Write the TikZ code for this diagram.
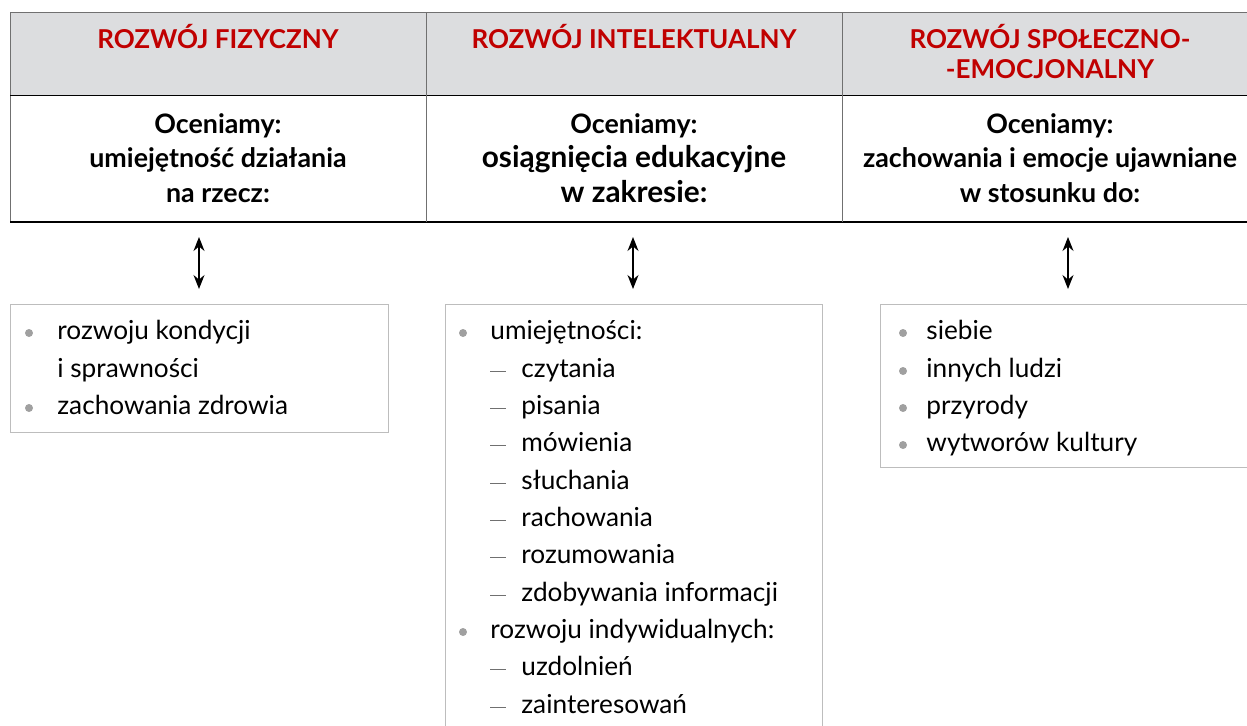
\documentclass[tikz,border=0pt]{standalone}
\usepackage{fontspec}
\setmainfont{Lato}
\usetikzlibrary{arrows.meta}
\definecolor{naglowek}{HTML}{DCDDDF}
\definecolor{czerwien}{HTML}{C00000}
\definecolor{ramka}{HTML}{BDBDBD}
\definecolor{linia}{HTML}{707070}
\definecolor{kropka}{HTML}{A0A0A0}

\begin{document}
\begin{tikzpicture}[x=0.5pt,y=-0.5pt,
		tytul/.style={font=\bfseries\fontsize{13}{15}\selectfont,text=czerwien,align=center,inner sep=0pt},
		ocena/.style={font=\bfseries\fontsize{13.4}{17.25}\selectfont,align=center,inner sep=0pt},
		punkt/.style={anchor=base west,font=\fontsize{13.1}{15}\selectfont,inner sep=0pt},
		strzalka/.style={{Stealth[length=7pt,width=5.5pt]}-{Stealth[length=7pt,width=5.5pt]},semithick}]
		\clip (0,0) rectangle (1247,725);
		%table
		\fill[naglowek] (10,12) rectangle (1270,95);
		\draw[linia] (1270,12) -- (10,12) -- (10,222);
		\draw[black] (10,95) -- (1270,95);
		\draw[black,thick] (10,222) -- (1270,222);
		\draw[linia] (426,12) -- (426,222);
		\draw[linia] (842,12) -- (842,222);
		%headers
		\node[tytul,anchor=base] (fiz) at (218,48) {ROZWÓJ FIZYCZNY};
		\node[tytul,anchor=base] (int) at (634,48) {ROZWÓJ INTELEKTUALNY};
		\node[tytul,anchor=base] (spo) at (1050,78) {ROZWÓJ SPOŁECZNO-\\-EMOCJONALNY};
		\node[ocena,anchor=base] (ocfiz) at (218,202) {Oceniamy:\\umiejętność działania\\na rzecz:};
		\node[ocena,anchor=base] (ocint) at (634,202) {Oceniamy:\\{\fontsize{14.9}{17.25}\selectfont osiągnięcia edukacyjne}\\{\fontsize{14.9}{17.25}\selectfont w zakresie:}};
		\node[ocena,anchor=base] (ocspo) at (1050,202) {Oceniamy:\\zachowania i emocje ujawniane\\w stosunku do:};
		%arrows
		\coordinate (s1a) at (199,237);
		\coordinate (s1b) at (199,289);
		\coordinate (s2a) at (633,237);
		\coordinate (s2b) at (633,289);
		\coordinate (s3a) at (1068,237);
		\coordinate (s3b) at (1068,289);
		\draw[strzalka] (s1a) -- (s1b);
		\draw[strzalka] (s2a) -- (s2b);
		\draw[strzalka] (s3a) -- (s3b);
		%boxes
		\draw[ramka] (10,304) rectangle (388,432);
		\draw[ramka] (445,304) rectangle (822,760);
		\draw[ramka] (880,304) rectangle (1270,467);
		%left list
		\fill[kropka] (29,333) circle (2pt);
		\fill[kropka] (29,408) circle (2pt);
		\node[punkt] (l1) at (57,339) {rozwoju kondycji};
		\node[punkt] (l2) at (57,377) {i sprawności};
		\node[punkt] (l3) at (57,414) {zachowania zdrowia};
		%middle list
		\fill[kropka] (463,333) circle (2pt);
		\fill[kropka] (463,632) circle (2pt);
		\node[punkt] (m1) at (490,339) {umiejętności:};
		\node[punkt] (m2) at (521,377) {czytania};
		\node[punkt] (m3) at (521,414) {pisania};
		\node[punkt] (m4) at (521,451) {mówienia};
		\node[punkt] (m5) at (521,489) {słuchania};
		\node[punkt] (m6) at (521,526) {rachowania};
		\node[punkt] (m7) at (521,563) {rozumowania};
		\node[punkt] (m8) at (521,601) {zdobywania informacji};
		\node[punkt] (m9) at (490,638) {rozwoju indywidualnych:};
		\node[punkt] (m10) at (521,675) {uzdolnień};
		\node[punkt] (m11) at (521,713) {zainteresowań};
		\draw[linia] (490,371) -- (506,371);
		\draw[linia] (490,408) -- (506,408);
		\draw[linia] (490,445) -- (506,445);
		\draw[linia] (490,483) -- (506,483);
		\draw[linia] (490,520) -- (506,520);
		\draw[linia] (490,557) -- (506,557);
		\draw[linia] (490,595) -- (506,595);
		\draw[linia] (490,669) -- (506,669);
		\draw[linia] (490,707) -- (506,707);
		%right list
		\fill[kropka] (903,333) circle (2pt);
		\fill[kropka] (903,371) circle (2pt);
		\fill[kropka] (903,408) circle (2pt);
		\fill[kropka] (903,445) circle (2pt);
		\node[punkt] (r1) at (926,339) {siebie};
		\node[punkt] (r2) at (926,377) {innych ludzi};
		\node[punkt] (r3) at (926,414) {przyrody};
		\node[punkt] (r4) at (926,451) {wytworów kultury};
	\end{tikzpicture}
\end{document}
